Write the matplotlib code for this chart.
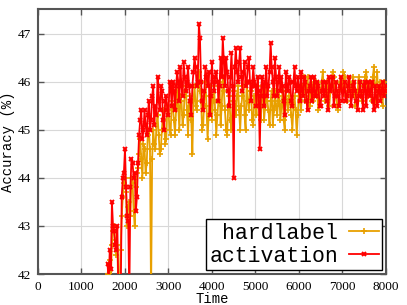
import numpy as np
import matplotlib
matplotlib.use("Agg")
import matplotlib.pyplot as plt

# sample times (every 25 steps from 1600 to 8000)
time = np.arange(1600, 8001, 25)

hardlabel = [
    42.0, 42.2, 42.3, 41.9, 42.6, 42.9, 43.0, 42.7, 42.4, 42.6,
    41.5, 41.7, 42.5, 43.2, 43.6, 43.9, 44.0, 43.7, 43.0, 43.4,
    43.5, 43.2, 44.0, 43.9, 43.3, 43.0, 43.8, 44.1, 44.2, 44.5,
    44.8, 44.4, 44.0, 44.7, 44.6, 44.1, 44.3, 44.9, 45.0, 44.6,
    41.5, 44.4, 45.0, 44.7, 44.6, 45.1, 45.3, 44.9, 44.5, 44.6,
    45.0, 45.4, 45.2, 44.7, 44.8, 45.5, 45.4, 45.0, 44.9, 45.6,
    45.5, 45.2, 44.9, 45.4, 45.8, 45.5, 45.0, 45.7, 45.6, 45.1,
    45.3, 45.8, 45.9, 45.4, 44.9, 45.5, 45.7, 45.2, 44.5, 45.6,
    45.9, 45.5, 45.4, 45.9, 46.2, 45.8, 45.6, 45.0, 45.1, 45.7,
    46.0, 45.5, 44.8, 45.3, 45.7, 45.9, 45.2, 45.6, 45.9, 45.4,
    44.9, 45.3, 45.6, 46.0, 45.1, 45.5, 46.1, 45.8, 45.4, 45.0,
    44.9, 45.5, 45.7, 45.2, 45.0, 45.6, 45.8, 45.5, 45.3, 45.7,
    45.9, 45.4, 45.0, 45.5, 45.7, 45.9, 45.3, 45.0, 46.0, 45.6,
    45.4, 45.8, 45.8, 45.2, 45.1, 45.7, 45.6, 45.3, 45.9, 45.6,
    45.5, 45.2, 45.7, 45.9, 45.2, 45.5, 45.9, 45.6, 45.4, 45.1,
    45.6, 45.8, 45.1, 45.4, 45.8, 45.5, 45.3, 45.6, 45.7, 45.2,
    45.5, 45.8, 45.2, 45.0, 45.8, 45.6, 45.4, 45.7, 45.6, 45.3,
    45.0, 45.5, 45.7, 45.4, 44.9, 45.3, 45.8, 45.6, 45.4, 45.9,
    45.9, 46.1, 45.6, 45.8, 46.1, 45.7, 45.5, 45.9, 45.9, 45.6,
    45.7, 46.0, 46.0, 45.7, 45.4, 45.8, 45.8, 46.0, 46.2, 45.8,
    45.6, 45.9, 46.0, 45.7, 45.5, 45.8, 45.9, 46.2, 46.1, 45.8,
    45.7, 45.5, 45.4, 45.8, 46.0, 45.9, 45.8, 46.2, 46.1, 45.7,
    45.6, 45.8, 45.9, 46.0, 45.7, 45.9, 46.1, 45.8, 45.5, 45.7,
    45.8, 46.1, 46.0, 45.7, 45.6, 45.9, 45.9, 46.1, 46.2, 45.8,
    45.7, 46.0, 45.9, 45.6, 46.1, 46.3, 45.6, 45.9, 46.2, 45.7,
    45.8, 46.0, 45.7, 45.5, 46.0, 45.9, 45.8,
]

activation = [
    42.2, 41.8, 42.5, 42.1, 43.5, 43.0, 42.9, 42.6, 42.5, 43.0,
    41.5, 41.2, 41.3, 43.6, 44.0, 44.1, 44.6, 43.8, 43.2, 43.1,
    41.5, 43.8, 44.4, 44.3, 44.0, 44.1, 43.3, 43.6, 44.3, 44.9,
    45.2, 45.4, 44.8, 45.0, 45.4, 45.1, 44.9, 45.3, 45.6, 45.0,
    45.2, 45.7, 45.9, 45.1, 45.5, 45.3, 46.1, 45.6, 45.4, 45.9,
    45.8, 45.2, 45.0, 45.6, 45.7, 45.4, 45.3, 46.0, 45.9, 45.5,
    46.0, 45.8, 45.4, 45.9, 46.2, 46.0, 45.6, 46.3, 45.9, 45.7,
    46.4, 46.1, 45.8, 46.0, 46.3, 45.9, 45.6, 45.3, 45.9, 46.2,
    46.5, 46.3, 45.9, 46.0, 47.2, 46.9, 46.0, 45.6, 45.4, 45.8,
    46.3, 46.1, 45.9, 46.2, 45.3, 45.7, 46.4, 46.0, 45.8, 46.1,
    46.2, 46.0, 45.6, 45.9, 46.5, 46.1, 46.9, 46.4, 45.9, 46.5,
    46.2, 45.8, 45.5, 46.1, 46.6, 45.9, 44.0, 46.3, 46.7, 46.2,
    46.0, 46.4, 46.7, 46.1, 45.8, 46.2, 46.4, 45.9, 46.0, 46.3,
    46.5, 46.0, 45.6, 45.9, 46.3, 46.0, 45.9, 45.5, 46.1, 45.8,
    44.6, 45.7, 46.1, 45.9, 45.5, 46.0, 46.3, 45.7, 45.9, 46.2,
    46.8, 46.3, 46.0, 45.7, 46.5, 46.1, 45.7, 46.0, 46.3, 45.8,
    46.1, 45.9, 45.6, 45.3, 46.2, 45.9, 45.8, 46.1, 46.0, 45.6,
    45.5, 46.0, 46.3, 45.9, 45.8, 46.1, 45.9, 45.6, 46.2, 45.8,
    45.7, 46.1, 46.0, 45.6, 45.4, 45.8, 45.9, 46.1, 45.6, 45.8,
    46.1, 45.7, 45.7, 46.0, 45.9, 45.5, 45.5, 45.8, 46.0, 45.7,
    45.8, 46.0, 45.6, 45.4, 46.1, 45.8, 45.9, 46.1, 45.5, 45.7,
    46.0, 45.8, 45.7, 45.5, 45.9, 46.1, 45.6, 45.8, 46.0, 45.6,
    45.7, 45.9, 46.1, 45.8, 45.5, 45.7, 45.9, 46.0, 45.8, 45.6,
    45.4, 45.7, 46.0, 45.8, 45.7, 45.4, 45.9, 46.0, 45.5, 45.8,
    46.0, 45.7, 45.8, 46.0, 45.6, 45.4, 45.9, 45.7, 45.5, 45.8,
    45.9, 45.6, 45.8, 46.0, 45.7, 45.8, 45.9,
]

xticks = [0, 1000, 2000, 3000, 4000, 5000, 6000, 7000, 8000]
yticks = [42, 43, 44, 45, 46, 47]

fig = plt.figure(figsize=(4.07, 3.05), dpi=100)
ax = fig.add_axes([0.0934, 0.1016, 0.8546, 0.8674])

ax.plot(time, hardlabel, color='#e8a000', lw=1.3, marker='+', ms=4.5, mew=1.2,
        label='hardlabel', zorder=3)
ax.plot(time, activation, color='#ff0000', lw=1.3, marker='x', ms=3.5, mew=1.4,
        label='activation', zorder=4)

ax.set_xlim(0, 8000)
ax.set_ylim(42, 47.5)
ax.set_xticks(xticks)
ax.set_yticks(yticks)
ax.grid(True, color='#d8d8d8', lw=0.8)
ax.set_axisbelow(True)

for s in ax.spines.values():
    s.set_color('#555555')
    s.set_linewidth(1.5)
ax.tick_params(direction='in', top=True, right=True, length=4, width=1,
               color='#555555', labelsize=9.5, pad=5)
for lab in ax.get_xticklabels() + ax.get_yticklabels():
    lab.set_family('Liberation Serif')

ax.set_xlabel('Time', family='Liberation Mono', fontsize=10, labelpad=-1)
ax.set_ylabel('Accuracy (%)', family='Liberation Mono', fontsize=10, labelpad=2)

leg = ax.legend(loc='lower right', bbox_to_anchor=(0.99, 0.015), borderaxespad=0,
                markerfirst=False, fancybox=False, framealpha=1, edgecolor='black',
                prop={'family': 'Liberation Mono', 'size': 15.5},
                handlelength=1.4, handletextpad=0.5, labelspacing=0.1,
                borderpad=0.15, numpoints=1)
leg.get_frame().set_linewidth(1.0)

fig.savefig('out.png', dpi=100)
